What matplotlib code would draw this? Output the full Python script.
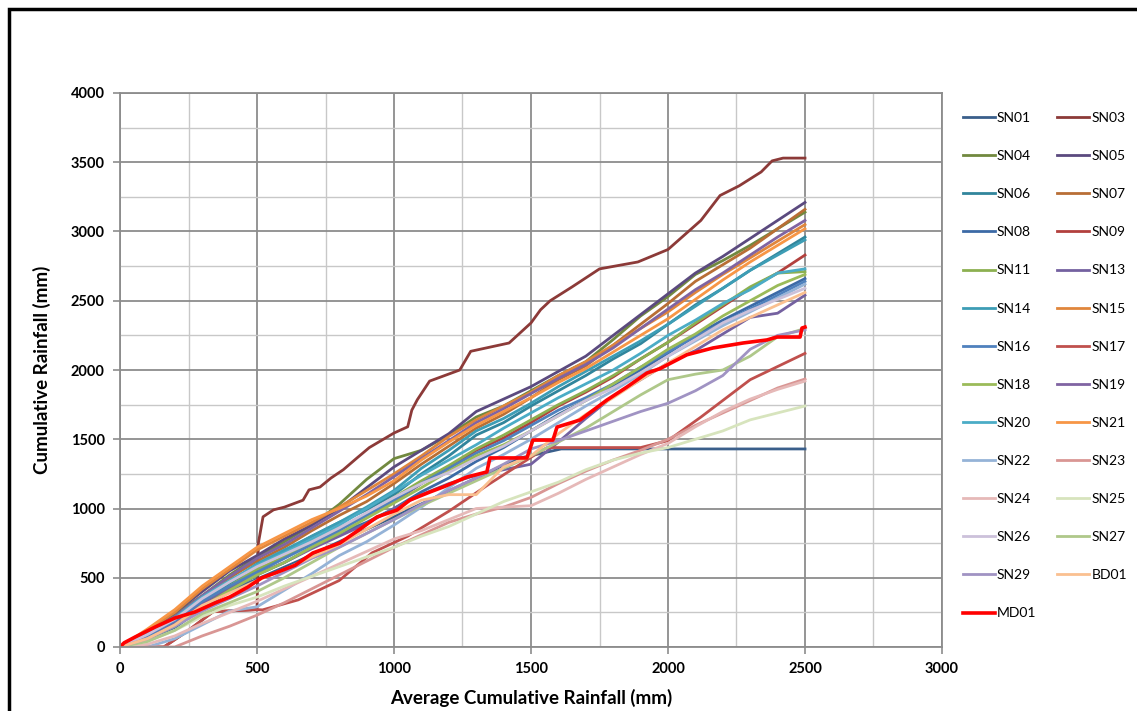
import matplotlib
matplotlib.use("Agg")
import matplotlib.pyplot as plt
from matplotlib.patches import Rectangle
from matplotlib.ticker import MultipleLocator

plt.rcParams['font.family'] = ['Lato', 'DejaVu Sans']

# average cumulative rainfall grid (mm) shared by most stations
avg_cum = [0, 100, 200, 300, 400, 500, 600, 700, 800, 900, 1000, 1100, 1200, 1300, 1400, 1500,
           1600, 1700, 1800, 1900, 2000, 2100, 2200, 2300, 2400, 2500]

SN04 = [0, 100, 240, 370, 520, 650, 760, 880, 1030, 1210, 1360, 1420, 1530, 1660, 1740, 1850, 1960, 2060, 2220, 2390, 2530, 2690, 2790, 2900, 3020, 3140]
SN05 = [0, 110, 250, 400, 550, 660, 780, 880, 1000, 1150, 1300, 1420, 1540, 1700, 1790, 1880, 1990, 2100, 2250, 2400, 2550, 2700, 2820, 2950, 3080, 3210]
SN06 = [0, 80, 190, 330, 460, 580, 690, 800, 900, 990, 1100, 1250, 1380, 1530, 1620, 1740, 1850, 1960, 2080, 2190, 2330, 2470, 2590, 2720, 2840, 2960]
SN07 = [0, 90, 210, 360, 500, 620, 720, 840, 950, 1050, 1180, 1320, 1450, 1580, 1680, 1800, 1930, 2030, 2180, 2330, 2480, 2640, 2760, 2880, 3020, 3160]
SN08 = [0, 50, 140, 280, 400, 520, 610, 720, 820, 900, 1000, 1120, 1220, 1340, 1440, 1560, 1680, 1780, 1880, 2000, 2120, 2250, 2360, 2460, 2560, 2660]
SN09 = [0, 60, 160, 300, 430, 560, 650, 760, 850, 950, 1050, 1180, 1290, 1420, 1510, 1620, 1740, 1840, 1950, 2080, 2200, 2330, 2460, 2590, 2700, 2830]
SN11 = [0, 70, 180, 310, 440, 560, 650, 760, 860, 960, 1080, 1200, 1310, 1430, 1530, 1640, 1750, 1850, 1960, 2080, 2200, 2340, 2470, 2600, 2700, 2710]
SN13 = [0, 70, 180, 310, 420, 530, 610, 710, 800, 890, 1000, 1100, 1180, 1240, 1280, 1320, 1480, 1650, 1810, 1930, 2050, 2140, 2260, 2380, 2410, 2540]
SN14 = [0, 90, 200, 340, 470, 600, 700, 800, 900, 1010, 1130, 1290, 1420, 1560, 1650, 1760, 1880, 1990, 2100, 2210, 2330, 2460, 2590, 2720, 2830, 2940]
SN15 = [0, 120, 250, 420, 560, 700, 800, 900, 1010, 1130, 1250, 1380, 1520, 1640, 1740, 1840, 1960, 2060, 2180, 2300, 2420, 2560, 2690, 2810, 2930, 3050]
SN16 = [0, 80, 190, 330, 440, 540, 640, 740, 840, 950, 1060, 1180, 1290, 1400, 1490, 1600, 1710, 1800, 1900, 2020, 2130, 2240, 2340, 2440, 2540, 2640]
SN18 = [0, 60, 150, 290, 410, 520, 610, 720, 820, 930, 1040, 1150, 1270, 1380, 1460, 1560, 1670, 1780, 1900, 2020, 2150, 2260, 2390, 2500, 2610, 2690]
SN19 = [0, 100, 220, 370, 510, 640, 740, 860, 980, 1100, 1230, 1360, 1490, 1620, 1720, 1830, 1940, 2040, 2160, 2300, 2440, 2580, 2700, 2830, 2960, 3080]
SN20 = [0, 100, 210, 360, 480, 590, 680, 780, 880, 1000, 1120, 1240, 1350, 1460, 1580, 1690, 1800, 1900, 2000, 2120, 2250, 2360, 2480, 2580, 2700, 2730]
SN21 = [0, 130, 270, 440, 580, 720, 820, 920, 1000, 1090, 1200, 1350, 1480, 1600, 1700, 1800, 1910, 2010, 2130, 2250, 2370, 2510, 2650, 2780, 2900, 3020]
SN22 = [0, 0, 60, 160, 260, 290, 410, 530, 660, 760, 880, 1010, 1150, 1290, 1390, 1500, 1620, 1740, 1850, 1970, 2100, 2210, 2320, 2420, 2520, 2620]
SN23 = [0, 0, 0, 80, 150, 230, 320, 420, 520, 620, 720, 810, 900, 960, 1010, 1080, 1180, 1270, 1350, 1420, 1500, 1600, 1690, 1780, 1870, 1935]
SN24 = [0, 20, 80, 170, 250, 330, 420, 510, 600, 690, 780, 840, 920, 1000, 1010, 1020, 1110, 1210, 1300, 1390, 1470, 1590, 1700, 1790, 1860, 1920]
SN25 = [0, 40, 120, 220, 300, 360, 440, 510, 580, 650, 720, 800, 870, 960, 1050, 1120, 1190, 1280, 1350, 1400, 1440, 1500, 1560, 1640, 1690, 1740]
SN26 = [0, 90, 200, 350, 470, 580, 670, 760, 860, 970, 1080, 1180, 1260, 1360, 1450, 1560, 1670, 1780, 1870, 1980, 2100, 2220, 2340, 2430, 2510, 2590]
SN27 = [0, 40, 120, 240, 320, 400, 500, 610, 720, 820, 920, 1020, 1110, 1200, 1290, 1380, 1480, 1580, 1700, 1820, 1930, 1970, 2000, 2100, 2240, 2300]
SN29 = [0, 60, 150, 260, 350, 440, 540, 640, 720, 820, 920, 1030, 1130, 1220, 1320, 1430, 1490, 1560, 1630, 1700, 1760, 1850, 1960, 2150, 2250, 2290]
BD01 = [0, 60, 160, 300, 390, 480, 560, 650, 740, 850, 960, 1060, 1100, 1100, 1300, 1380, 1540, 1680, 1800, 1930, 2050, 2170, 2290, 2380, 2470, 2560]

# stations with their own x readings
SN01_x = [0, 100, 250, 400, 500, 650, 800, 1000, 1150, 1300, 1450, 1610, 2500]
SN01 = [0, 60, 230, 400, 490, 620, 760, 940, 1080, 1220, 1360, 1430, 1430]

SN03_x = [0, 160, 250, 340, 500, 505, 522, 560, 600, 668, 690, 730, 770, 815, 865, 910, 1000, 1050, 1065,
          1085, 1130, 1240, 1280, 1420, 1500, 1535, 1570, 1650, 1750, 1890, 2000, 2120, 2190, 2260, 2340,
          2380, 2420, 2500]
SN03 = [0, 0, 120, 255, 270, 750, 940, 990, 1010, 1060, 1135, 1155, 1220, 1280, 1365, 1440, 1545, 1590, 1710,
        1785, 1920, 2000, 2135, 2195, 2340, 2435, 2500, 2600, 2730, 2780, 2870, 3080, 3260, 3330, 3430,
        3510, 3530, 3530]

SN17_x = [0, 160, 250, 340, 500, 520, 650, 800, 920, 1050, 1200, 1350, 1540, 1560, 1900, 2000, 2120, 2300, 2500]
SN17 = [0, 0, 120, 255, 270, 268, 340, 480, 680, 800, 980, 1180, 1420, 1440, 1440, 1490, 1660, 1930, 2120]

MD01_x = [0, 15, 55, 128, 200, 274, 347, 401, 467, 518, 566, 639, 704, 803, 887, 938, 1011, 1058, 1131, 1179,
          1266, 1339, 1350, 1485, 1507, 1580, 1595, 1679, 1777, 1850, 1923, 1971, 2069, 2164, 2274, 2361,
          2398, 2482, 2489, 2500]
MD01 = [0, 30, 72, 144, 209, 253, 318, 361, 433, 500, 534, 590, 679, 751, 866, 939, 989, 1061, 1119, 1155,
        1227, 1264, 1365, 1365, 1494, 1494, 1588, 1639, 1783, 1877, 1978, 2010, 2110, 2159, 2195, 2217,
        2238, 2238, 2303, 2310]

stations = ["SN01", "SN03", "SN04", "SN05", "SN06", "SN07", "SN08", "SN09", "SN11", "SN13", "SN14",
            "SN15", "SN16", "SN17", "SN18", "SN19", "SN20", "SN21", "SN22", "SN23", "SN24", "SN25",
            "SN26", "SN27", "SN29", "BD01", "MD01"]
series = {
    "SN01": (SN01_x, SN01), "SN03": (SN03_x, SN03), "SN04": (avg_cum, SN04), "SN05": (avg_cum, SN05),
    "SN06": (avg_cum, SN06), "SN07": (avg_cum, SN07), "SN08": (avg_cum, SN08), "SN09": (avg_cum, SN09),
    "SN11": (avg_cum, SN11), "SN13": (avg_cum, SN13), "SN14": (avg_cum, SN14), "SN15": (avg_cum, SN15),
    "SN16": (avg_cum, SN16), "SN17": (SN17_x, SN17), "SN18": (avg_cum, SN18), "SN19": (avg_cum, SN19),
    "SN20": (avg_cum, SN20), "SN21": (avg_cum, SN21), "SN22": (avg_cum, SN22), "SN23": (avg_cum, SN23),
    "SN24": (avg_cum, SN24), "SN25": (avg_cum, SN25), "SN26": (avg_cum, SN26), "SN27": (avg_cum, SN27),
    "SN29": (avg_cum, SN29), "BD01": (avg_cum, BD01), "MD01": (MD01_x, MD01),
}
colors = {
    "SN01": "#3A5F8B", "SN03": "#8C3A38", "SN04": "#71893F", "SN05": "#5B4A7F", "SN06": "#31859C",
    "SN07": "#B86E35", "SN08": "#3C6AA6", "SN09": "#B2403D", "SN11": "#8CB050", "SN13": "#7461A0",
    "SN14": "#3D9DB5", "SN15": "#E0863C", "SN16": "#4F81BD", "SN17": "#C0504D", "SN18": "#9BBB59",
    "SN19": "#8064A2", "SN20": "#4BACC6", "SN21": "#F79646", "SN22": "#95B3D7", "SN23": "#D99694",
    "SN24": "#E6B9B8", "SN25": "#D7E4BD", "SN26": "#CCC1DA", "SN27": "#AFC88A", "SN29": "#A093C3",
    "BD01": "#FAC090", "MD01": "#FF0000",
}

fig = plt.figure(figsize=(11.37, 7.11), dpi=100)
ax = fig.add_axes([120 / 1137, 1 - 647 / 711, 822 / 1137, 554 / 711])

handles = {}
for name in stations:
    xs, ys = series[name]
    lw = 2.6 if name == "MD01" else 2.0
    h, = ax.plot(xs, ys, color=colors[name], lw=lw, label=name)
    handles[name] = h

ax.set_xlim(0, 3000)
ax.set_ylim(0, 4000)
ax.xaxis.set_major_locator(MultipleLocator(500))
ax.xaxis.set_minor_locator(MultipleLocator(250))
ax.yaxis.set_major_locator(MultipleLocator(500))
ax.yaxis.set_minor_locator(MultipleLocator(250))
ax.grid(which="major", color="#8C8C8C", lw=1.3)
ax.grid(which="minor", color="#C8C8C8", lw=1.0)
ax.set_axisbelow(True)
for s in ax.spines.values():
    s.set_color("#8C8C8C")
    s.set_linewidth(1.3)
ax.tick_params(which="major", length=5, width=1.2, color="#8C8C8C", labelsize=10.5, pad=6)
ax.tick_params(which="minor", length=0)
for lab in ax.get_xticklabels() + ax.get_yticklabels():
    lab.set_fontweight("bold")

ax.set_xlabel("Average Cumulative Rainfall (mm)", fontsize=13.5, fontweight="bold", labelpad=9)
ax.set_ylabel("Cumulative Rainfall (mm)", fontsize=13.5, fontweight="bold", labelpad=14)

# legend in row-major order like the original (two columns)
order = stations[0::2] + stations[1::2]
leg = fig.legend([handles[n] for n in order], order, loc="upper left",
                 bbox_to_anchor=(963 / 1137, 1 - 112 / 711), ncol=2, frameon=False,
                 fontsize=10, handlelength=2.3, handletextpad=0.15, columnspacing=1.5,
                 labelspacing=1.88, borderpad=0, borderaxespad=0)

# outer black frame (cut off at right and bottom)
fig.patches.append(Rectangle((9 / 1137, -0.2), 2.0, 1.2 - 9 / 711, transform=fig.transFigure,
                             fill=False, edgecolor="black", lw=2.5))

fig.savefig("out.png", dpi=100)
